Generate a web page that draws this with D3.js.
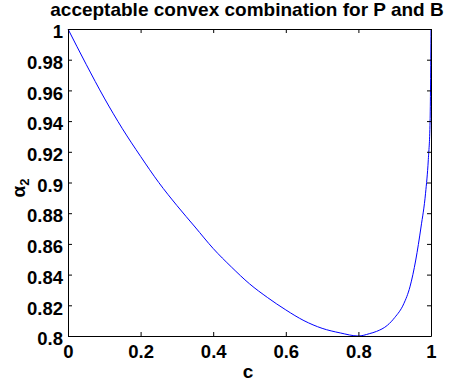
<!DOCTYPE html>
<html>
<head>
<meta charset="utf-8">
<script src="https://cdn.jsdelivr.net/npm/d3@7"></script>
<style>
  html, body { margin: 0; padding: 0; background: #fff; }
  svg { display: block; }
  text { font-family: "Liberation Sans", Arial, Helvetica, sans-serif; font-weight: bold; fill: #000; }
</style>
</head>
<body>
<script>
// ---- data ----
const cValues = [0, 0.05, 0.1, 0.15, 0.2, 0.25, 0.3, 0.35, 0.4, 0.45, 0.5, 0.55, 0.6, 0.65, 0.7, 0.75, 0.8, 0.83, 0.85, 0.88, 0.9, 0.925, 0.942, 0.958, 0.9725, 0.985, 0.9926, 0.9975, 1];
const alphaValues = [1, 0.977, 0.955, 0.935, 0.917, 0.900, 0.885, 0.871, 0.857, 0.845, 0.834, 0.825, 0.817, 0.810, 0.805, 0.802, 0.800, 0.8015, 0.803, 0.807, 0.812, 0.821, 0.832, 0.8495, 0.871, 0.893, 0.915, 0.940, 1];
const xTicks = [0, 0.2, 0.4, 0.6, 0.8, 1];
const xTickLabels = ["0", "0.2", "0.4", "0.6", "0.8", "1"];
const yTicks = [0.8, 0.82, 0.84, 0.86, 0.88, 0.9, 0.92, 0.94, 0.96, 0.98, 1];
const yTickLabels = ["0.8", "0.82", "0.84", "0.86", "0.88", "0.9", "0.92", "0.94", "0.96", "0.98", "1"];
const titleText = "acceptable convex combination for P and B";
const xLabelText = "c";
const yLabelMain = "\u03B1";
const yLabelSub = "2";

// ---- layout ----
const W = 452, H = 385;
const L = 68, R = 431, T = 29, B = 336;

const svg = d3.select("body").append("svg").attr("width", W).attr("height", H);

const x = d3.scaleLinear().domain([0, 1]).range([L, R]);
const y = d3.scaleLinear().domain([0.8, 1]).range([B, T]);

const tickFont = 18.5;

// curve
const pts = cValues.map((c, i) => [c, alphaValues[i]]);
svg.append("path")
  .datum(pts)
  .attr("fill", "none")
  .attr("stroke", "#0000ff")
  .attr("stroke-width", 1)
  .attr("d", d3.line().x(d => x(d[0])).y(d => y(d[1])).curve(d3.curveMonotoneX));

// axes
function styleAxis(g) {
  g.select(".domain").attr("stroke", "#000").attr("stroke-width", 1);
  g.selectAll(".tick line").attr("stroke", "#000").attr("stroke-width", 1);
  g.attr("font-family", null).attr("font-size", null);
}

const axBottom = svg.append("g").attr("transform", `translate(0,${B})`)
  .call(d3.axisBottom(x).tickValues(xTicks).tickFormat((d, i) => xTickLabels[i])
    .tickSizeInner(-4).tickSizeOuter(0).tickPadding(9));
styleAxis(axBottom);
axBottom.selectAll(".tick text").style("font-size", tickFont + "px");

const axLeft = svg.append("g").attr("transform", `translate(${L},0)`)
  .call(d3.axisLeft(y).tickValues(yTicks).tickFormat((d, i) => yTickLabels[i])
    .tickSizeInner(-4).tickSizeOuter(0).tickPadding(5));
styleAxis(axLeft);
axLeft.selectAll(".tick text").style("font-size", tickFont + "px").attr("dy", "0.47em");

const axTop = svg.append("g").attr("transform", `translate(0,${T})`)
  .call(d3.axisTop(x).tickValues(xTicks).tickFormat("").tickSizeInner(-4).tickSizeOuter(0));
styleAxis(axTop);

const axRight = svg.append("g").attr("transform", `translate(${R},0)`)
  .call(d3.axisRight(y).tickValues(yTicks).tickFormat("").tickSizeInner(-4).tickSizeOuter(0));
styleAxis(axRight);

// title
svg.append("text")
  .attr("x", 247).attr("y", 16)
  .attr("text-anchor", "middle")
  .style("font-size", "19px")
  .text(titleText);

// x label
svg.append("text")
  .attr("x", 248).attr("y", 378)
  .attr("text-anchor", "middle")
  .style("font-size", "19px")
  .text(xLabelText);

// y label
const yl = svg.append("text")
  .attr("transform", "translate(25,188) rotate(-90)")
  .attr("text-anchor", "middle")
  .style("font-size", "19px");
yl.append("tspan").text(yLabelMain);
yl.append("tspan").attr("dy", 4).style("font-size", "13px").text(yLabelSub);
</script>
</body>
</html>
